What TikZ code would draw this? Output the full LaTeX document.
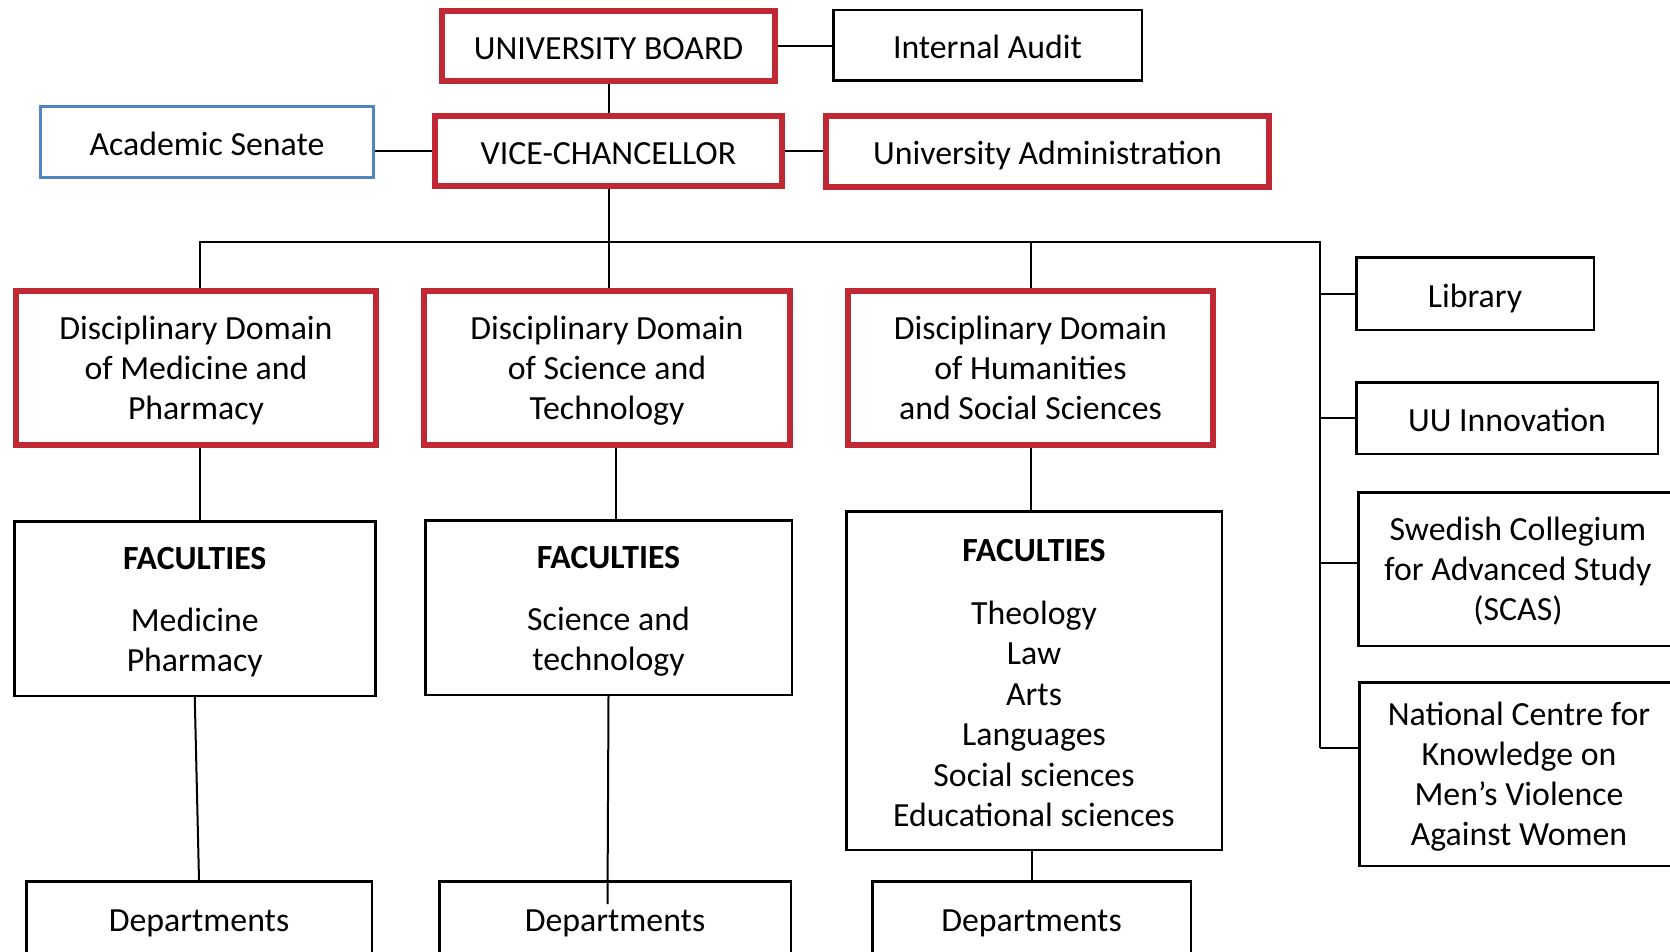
\documentclass[tikz,border=0pt]{standalone}
\usepackage{fontspec}
\setmainfont{Carlito}
\definecolor{uured}{RGB}{192,41,52}
\definecolor{uublue}{RGB}{82,132,196}
\newcommand\boxstrut{\rule[-6.5pt]{0pt}{40pt}}
\newcommand\firststrut{\rule{0pt}{29.5pt}}
\begin{document}
\begin{tikzpicture}[x=1pt,y=-1pt,
  box/.style={rectangle, inner sep=0pt, align=center, font=\fontsize{33.8}{40}\selectfont,
    execute at begin node=\boxstrut, execute at end node=\boxstrut},
  redbox/.style={box, draw=uured, line width=6pt},
  blackbox/.style={box, draw=black, line width=2.5pt},
  bluebox/.style={box, draw=uublue, line width=3.5pt},
  conn/.style={draw=black, line width=2pt}]
\useasboundingbox (0,0) rectangle (1670,952);
% top
\node[redbox, minimum width=333.5pt, minimum height=70.5pt] (UB) at (608.5,46) {UNIVERSITY BOARD};
\node[blackbox, minimum width=308.5pt, minimum height=70.5pt] (IA) at (987.5,45.5) {Internal Audit};
\node[bluebox, minimum width=333pt, minimum height=71pt] (AS) at (207,142) {Academic Senate};
\node[redbox, minimum width=347.5pt, minimum height=70.5pt] (VC) at (608.5,151) {VICE-CHANCELLOR};
\node[redbox, minimum width=443.5pt, minimum height=71.5pt] (UA) at (1047.5,151.5) {University Administration};
% domains
\node[redbox, minimum width=360.5pt, minimum height=154.5pt] (D1) at (196,368) {\firststrut Disciplinary Domain\\of Medicine and\\Pharmacy};
\node[redbox, minimum width=366.5pt, minimum height=154.5pt] (D2) at (607,368) {\firststrut Disciplinary Domain\\of Science and\\Technology};
\node[redbox, minimum width=365.5pt, minimum height=154.5pt] (D3) at (1030.5,368) {\firststrut Disciplinary Domain\\of Humanities\\and Social Sciences};
% right column
\node[blackbox, minimum width=237.5pt, minimum height=72.5pt] (Lib) at (1475,293.5) {Library};
\node[blackbox, minimum width=301.5pt, minimum height=71.5pt] (UU) at (1507,418) {UU Innovation};
\node[blackbox, minimum width=319.5pt, minimum height=153.5pt] (SCAS) at (1518,569) {\firststrut Swedish Collegium\\for Advanced Study\\(SCAS)};
\node[blackbox, minimum width=319.5pt, minimum height=183.5pt] (NC) at (1519,774) {\firststrut National Centre for\\Knowledge on\\Men’s Violence\\Against Women};
% faculties
\node[blackbox, minimum width=361pt, minimum height=174.5pt] (F1) at (194.75,608.5) {\firststrut\textbf{FACULTIES}\\[22pt]Medicine\\Pharmacy};
\node[blackbox, minimum width=366.5pt, minimum height=174.5pt] (F2) at (608.5,607.5) {\firststrut\textbf{FACULTIES}\\[22pt]Science and\\technology};
\node[blackbox, minimum width=375.5pt, minimum height=338.5pt, font=\fontsize{33.8}{40.5}\selectfont] (F3) at (1034,680.5) {\boxstrut\textbf{FACULTIES}\\[22pt]Theology\\Law\\Arts\\Languages\\Social sciences\\Educational sciences};
% departments
\node[blackbox, minimum width=345.5pt, minimum height=73.5pt] (Dep1) at (199,918) {Departments};
\node[blackbox, minimum width=351.5pt, minimum height=73.5pt] (Dep2) at (615,918) {Departments};
\node[blackbox, minimum width=318.5pt, minimum height=73.5pt] (Dep3) at (1031.5,918) {Departments};
% connectors
\coordinate (busL) at (200,242);
\coordinate (busR) at (1320,242);
\coordinate (busE) at (1320,748);
\coordinate (c2) at (616,0);
\coordinate (sc) at (1320,563);
\coordinate (nc) at (1320,748);
\coordinate (dep2end) at (607.5,904);
\draw[conn] (UB.south) -- (UB.south |- VC.north);
\draw[conn] (UB.east) -- (UB.east -| IA.west);
\draw[conn] (AS.east |- VC.west) -- (VC.west);
\draw[conn] (VC.east) -- (VC.east -| UA.west);
\draw[conn] (VC.south) -- (VC.south |- D2.north);
\draw[conn] (busL |- D1.north) -- (busL) -- (busR) -- (busE);
\draw[conn] (D3.north |- busL) -- (D3.north);
\draw[conn] (busR |- Lib.west) -- (Lib.west);
\draw[conn] (busR |- UU.west) -- (UU.west);
\draw[conn] (sc) -- (sc -| SCAS.west);
\draw[conn] (nc) -- (nc -| NC.west);
\draw[conn] (busL |- D1.south) -- (busL |- F1.north);
\draw[conn] (c2 |- D2.south) -- (c2 |- F2.north);
\draw[conn] (D3.south) -- (D3.south |- F3.north);
\draw[conn] (F1.south) -- (Dep1.north);
\draw[conn] (F2.south) -- (dep2end);
\draw[conn] (Dep3.north |- F3.south) -- (Dep3.north);
\end{tikzpicture}
\end{document}
